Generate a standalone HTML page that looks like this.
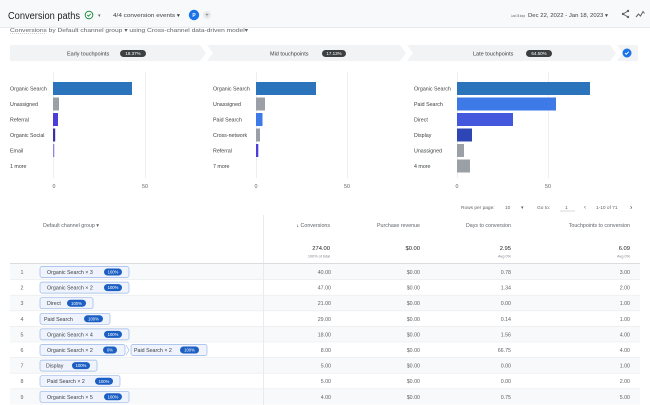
<!DOCTYPE html>
<html><head><meta charset="utf-8">
<style>
html,body{margin:0;padding:0;background:#fff;width:650px;height:405px;overflow:hidden}
svg{display:block;font-family:"Liberation Sans",Arial,sans-serif}
</style></head>
<body>
<svg width="650" height="405" viewBox="0 0 650 405" xmlns="http://www.w3.org/2000/svg">
<!-- top bar -->
<rect x="0" y="0" width="650" height="27" fill="#f8f9fa"/>
<line x1="0" y1="27.5" x2="650" y2="27.5" stroke="#e8eaed"/>
<text x="8" y="19" font-size="10" fill="#202124" textLength="72" lengthAdjust="spacingAndGlyphs">Conversion paths</text>
<circle cx="89" cy="15" r="3.8" fill="none" stroke="#1e8e3e" stroke-width="1"/>
<path d="M87.3 15 l1.2 1.2 l2.2-2.3" fill="none" stroke="#1e8e3e" stroke-width="0.9"/>
<text x="98" y="17" font-size="5" fill="#5f6368">▾</text>
<text x="113" y="17" font-size="5.5" fill="#3c4043" textLength="67" lengthAdjust="spacingAndGlyphs">4/4 conversion events ▾</text>
<circle cx="194" cy="15" r="5.2" fill="#1a73e8"/>
<text x="194" y="17" font-size="5" fill="#fff" text-anchor="middle" font-weight="bold">P</text>
<circle cx="207" cy="15" r="4" fill="#e8eaed"/>
<text x="207" y="17" font-size="6" fill="#5f6368" text-anchor="middle">+</text>
<text x="511" y="17" font-size="3.8" fill="#5f6368" textLength="14" lengthAdjust="spacingAndGlyphs">Last 28 days</text>
<text x="528" y="17" font-size="5.6" fill="#3c4043" textLength="80" lengthAdjust="spacingAndGlyphs">Dec 22, 2022 - Jan 18, 2023 ▾</text>
<g stroke="#5f6368" stroke-width="1" fill="none">
<path d="M628 11 l-5 3 l5 3"/>
<path d="M636 17 l2.5-3 l2 2 l2.5-4.5 l1.5 2"/>
</g>
<circle cx="628" cy="11" r="1.2" fill="#5f6368"/><circle cx="623" cy="14" r="1.2" fill="#5f6368"/><circle cx="628" cy="17" r="1.2" fill="#5f6368"/>
<!-- subtitle -->
<text x="10" y="32" font-size="5.8" fill="#5f6368" textLength="238" lengthAdjust="spacingAndGlyphs">Conversions by Default channel group ▾  using Cross-channel data-driven model▾</text>
<line x1="10" y1="33.5" x2="45" y2="33.5" stroke="#9aa0a6" stroke-width="0.5" stroke-dasharray="1,1"/>
<!-- stage tabs -->
<path d="M12 45 H200 L206 53 L200 61 H12 Q10 61 10 59 V47 Q10 45 12 45Z" fill="#f1f3f4"/>
<path d="M207 45 H400 L406 53 L400 61 H207 L213 53Z" fill="#f1f3f4"/>
<path d="M407 45 H610 L616 53 L610 61 H407 L413 53Z" fill="#f1f3f4"/>
<path d="M617 45 H636 Q638 45 638 47 V59 Q638 61 636 61 H617 L623 53Z" fill="#f1f3f4"/>
<text x="67" y="55.5" font-size="5.5" fill="#3c4043">Early touchpoints</text>
<rect x="120" y="50" width="26" height="7" rx="3.5" fill="#3c4043"/>
<text x="133" y="55.2" font-size="4.5" fill="#fff" text-anchor="middle">18.37%</text>
<text x="270" y="55.5" font-size="5.5" fill="#3c4043">Mid touchpoints</text>
<rect x="322" y="50" width="24" height="7" rx="3.5" fill="#3c4043"/>
<text x="334" y="55.2" font-size="4.5" fill="#fff" text-anchor="middle">17.13%</text>
<text x="473" y="55.5" font-size="5.5" fill="#3c4043">Late touchpoints</text>
<rect x="526" y="50" width="26" height="7" rx="3.5" fill="#3c4043"/>
<text x="539" y="55.2" font-size="4.5" fill="#fff" text-anchor="middle">64.50%</text>
<circle cx="627" cy="53" r="4.5" fill="#1a73e8"/>
<path d="M625 53 l1.3 1.3 l2.5-2.6" fill="none" stroke="#fff" stroke-width="0.9"/>
<!-- charts gridlines -->
<g stroke="#e8eaed" stroke-width="0.8">
<line x1="53.5" y1="72" x2="53.5" y2="178"/><line x1="145.5" y1="72" x2="145.5" y2="178"/>
<line x1="256.5" y1="72" x2="256.5" y2="178"/><line x1="347.5" y1="72" x2="347.5" y2="178"/>
<line x1="457.5" y1="72" x2="457.5" y2="178"/><line x1="548.5" y1="72" x2="548.5" y2="178"/>
</g>
<g font-size="5.3" fill="#3c4043">
<text x="10" y="90.5">Organic Search</text>
<text x="10" y="106">Unassigned</text>
<text x="10" y="121.5">Referral</text>
<text x="10" y="137">Organic Social</text>
<text x="10" y="152.5">Email</text>
<text x="10" y="168">1 more</text>
<text x="213" y="90.5">Organic Search</text>
<text x="213" y="106">Unassigned</text>
<text x="213" y="121.5">Paid Search</text>
<text x="213" y="137">Cross-network</text>
<text x="213" y="152.5">Referral</text>
<text x="213" y="168">7 more</text>
<text x="414" y="90.5">Organic Search</text>
<text x="414" y="106">Paid Search</text>
<text x="414" y="121.5">Direct</text>
<text x="414" y="137">Display</text>
<text x="414" y="152.5">Unassigned</text>
<text x="414" y="168">4 more</text>
</g>
<g font-size="5.3" fill="#5f6368" text-anchor="middle">
<text x="54" y="188">0</text><text x="145" y="188">50</text>
<text x="256" y="188">0</text><text x="347" y="188">50</text>
<text x="457" y="188">0</text><text x="548" y="188">50</text>
</g>
<!-- bars -->
<rect x="53" y="82" width="79" height="13" fill="#2b73bb"/>
<rect x="53" y="97.5" width="6" height="13" fill="#9aa0a6"/>
<rect x="53" y="113" width="5" height="13" fill="#4b3fd8"/>
<rect x="53" y="128.5" width="2.2" height="13" fill="#3b2fa8"/>
<rect x="53" y="144" width="1.3" height="13" fill="#8f86e0"/>

<rect x="256" y="82" width="60" height="13" fill="#2b73bb"/>
<rect x="256" y="97.5" width="9" height="13" fill="#9aa0a6"/>
<rect x="256" y="113" width="6.5" height="13" fill="#3d7ae8"/>
<rect x="256" y="128.5" width="4" height="13" fill="#9aa0a6"/>
<rect x="256" y="144" width="2.3" height="13" fill="#4b3fd8"/>

<rect x="457" y="82" width="133" height="13" fill="#2b73bb"/>
<rect x="457" y="97.5" width="99" height="13" fill="#3d7ae8"/>
<rect x="457" y="113" width="56" height="13" fill="#4458de"/>
<rect x="457" y="128.5" width="15" height="13" fill="#2d45b5"/>
<rect x="457" y="144" width="7" height="13" fill="#9aa0a6"/>
<rect x="457" y="159.5" width="13" height="13" fill="#9aa0a6"/>
<!-- pagination -->
<g font-size="4.8" fill="#5f6368">
<text x="461" y="209">Rows per page:</text>
<text x="505" y="209">10</text>
<text x="521" y="209">▾</text>
<text x="537" y="209">Go to:</text>
<text x="565" y="209">1</text>
<line x1="560" y1="211" x2="575" y2="211" stroke="#9aa0a6" stroke-width="0.4"/>
<text x="584" y="209" font-size="6">‹</text>
<text x="596" y="209">1-10 of 71</text>
<text x="630" y="209.5" font-size="7" fill="#3c4043">›</text>
</g>
<!-- table header -->
<line x1="263.5" y1="215" x2="263.5" y2="405" stroke="#e8eaed"/>
<g font-size="5.3" fill="#5f6368">
<text x="43" y="227">Default channel group  ▾</text>
<text x="330" y="227" text-anchor="end"><tspan fill="#202124">↓</tspan> Conversions</text>
<text x="420" y="227" text-anchor="end">Purchase revenue</text>
<text x="511" y="227" text-anchor="end">Days to conversion</text>
<text x="630" y="227" text-anchor="end">Touchpoints to conversion</text>
</g>
<g font-size="5.8" fill="#202124" text-anchor="end">
<text x="330" y="250">274.00</text>
<text x="420" y="250">$0.00</text>
<text x="511" y="250">2.95</text>
<text x="630" y="250">6.09</text>
</g>
<g font-size="3.8" fill="#80868b" text-anchor="end">
<text x="330" y="257.5">100% of total</text>
<text x="511" y="257.5">Avg 0%</text>
<text x="630" y="257.5">Avg 0%</text>
</g>
<line x1="10" y1="263.5" x2="640" y2="263.5" stroke="#dadce0"/>
<g fill="#f8f9fa">
<rect x="10" y="264" width="630" height="15.6"/>
<rect x="10" y="295.2" width="630" height="15.6"/>
<rect x="10" y="326.4" width="630" height="15.6"/>
<rect x="10" y="357.6" width="630" height="15.6"/>
<rect x="10" y="388.8" width="630" height="15.6"/>
</g>
<g stroke="#e8eaed" stroke-width="0.6">
<line x1="10" y1="279.6" x2="640" y2="279.6"/>
<line x1="10" y1="295.2" x2="640" y2="295.2"/>
<line x1="10" y1="310.8" x2="640" y2="310.8"/>
<line x1="10" y1="326.4" x2="640" y2="326.4"/>
<line x1="10" y1="342" x2="640" y2="342"/>
<line x1="10" y1="357.6" x2="640" y2="357.6"/>
<line x1="10" y1="373.2" x2="640" y2="373.2"/>
<line x1="10" y1="388.8" x2="640" y2="388.8"/>
</g>
<line x1="263.5" y1="264" x2="263.5" y2="405" stroke="#e8eaed"/>
<g font-size="5.3" fill="#5f6368" text-anchor="middle">
<text x="22" y="274">1</text><text x="22" y="289.6">2</text><text x="22" y="305.2">3</text>
<text x="22" y="320.8">4</text><text x="22" y="336.4">5</text><text x="22" y="352">6</text>
<text x="22" y="367.6">7</text><text x="22" y="383.2">8</text><text x="22" y="398.8">9</text>
</g>
<g fill="#eef3fd" stroke="#9bb7e6" stroke-width="0.7">
<rect x="40" y="266.5" width="89" height="11" rx="2"/>
<rect x="40" y="282.1" width="89" height="11" rx="2"/>
<rect x="40" y="297.7" width="53" height="11" rx="2"/>
<rect x="40" y="313.3" width="70" height="11" rx="2"/>
<rect x="40" y="328.9" width="89" height="11" rx="2"/>
<rect x="40" y="344.5" width="85" height="11" rx="2"/>
<rect x="131" y="344.5" width="76" height="11" rx="2"/>
<rect x="40" y="360.1" width="57" height="11" rx="2"/>
<rect x="40" y="375.7" width="80" height="11" rx="2"/>
<rect x="40" y="391.3" width="89" height="11" rx="2"/>
</g>
<path d="M126 345 l3 5 l-3 5" fill="none" stroke="#9bb7e6" stroke-width="0.6"/>
<g font-size="5.3" fill="#3c4043">
<text x="47" y="274">Organic Search × 3</text>
<text x="47" y="289.6">Organic Search × 2</text>
<text x="47" y="305.2">Direct</text>
<text x="44" y="320.8">Paid Search</text>
<text x="47" y="336.4">Organic Search × 4</text>
<text x="47" y="352">Organic Search × 2</text>
<text x="134" y="352">Paid Search × 2</text>
<text x="46" y="367.6">Display</text>
<text x="47" y="383.2">Paid Search × 2</text>
<text x="47" y="398.8">Organic Search × 5</text>
</g>
<g fill="#1b5fc4">
<rect x="104" y="268.5" width="18" height="7" rx="3.5"/>
<rect x="104" y="284.1" width="18" height="7" rx="3.5"/>
<rect x="67" y="299.7" width="19" height="7" rx="3.5"/>
<rect x="84" y="315.3" width="19" height="7" rx="3.5"/>
<rect x="104" y="330.9" width="18" height="7" rx="3.5"/>
<rect x="103" y="346.5" width="14" height="7" rx="3.5"/>
<rect x="180" y="346.5" width="19" height="7" rx="3.5"/>
<rect x="72" y="362.1" width="18" height="7" rx="3.5"/>
<rect x="95" y="377.7" width="18" height="7" rx="3.5"/>
<rect x="104" y="393.3" width="18" height="7" rx="3.5"/>
</g>
<g font-size="4.2" fill="#fff" text-anchor="middle">
<text x="113" y="273.6">100%</text>
<text x="113" y="289.2">100%</text>
<text x="76.5" y="304.8">100%</text>
<text x="93.5" y="320.4">100%</text>
<text x="113" y="336">100%</text>
<text x="110" y="351.6">0%</text>
<text x="189.5" y="351.6">100%</text>
<text x="81" y="367.2">100%</text>
<text x="104" y="382.8">100%</text>
<text x="113" y="398.4">100%</text>
</g>
<g font-size="5.3" fill="#5f6368" text-anchor="end">
<text x="331" y="274">40.00</text><text x="420" y="274">$0.00</text><text x="511" y="274">0.78</text><text x="630" y="274">3.00</text>
<text x="331" y="289.6">47.00</text><text x="420" y="289.6">$0.00</text><text x="511" y="289.6">1.34</text><text x="630" y="289.6">2.00</text>
<text x="331" y="305.2">21.00</text><text x="420" y="305.2">$0.00</text><text x="511" y="305.2">0.00</text><text x="630" y="305.2">1.00</text>
<text x="331" y="320.8">29.00</text><text x="420" y="320.8">$0.00</text><text x="511" y="320.8">0.14</text><text x="630" y="320.8">1.00</text>
<text x="331" y="336.4">18.00</text><text x="420" y="336.4">$0.00</text><text x="511" y="336.4">1.56</text><text x="630" y="336.4">4.00</text>
<text x="331" y="352">8.00</text><text x="420" y="352">$0.00</text><text x="511" y="352">66.75</text><text x="630" y="352">4.00</text>
<text x="331" y="367.6">5.00</text><text x="420" y="367.6">$0.00</text><text x="511" y="367.6">0.00</text><text x="630" y="367.6">1.00</text>
<text x="331" y="383.2">5.00</text><text x="420" y="383.2">$0.00</text><text x="511" y="383.2">0.00</text><text x="630" y="383.2">2.00</text>
<text x="331" y="398.8">4.00</text><text x="420" y="398.8">$0.00</text><text x="511" y="398.8">0.75</text><text x="630" y="398.8">5.00</text>
</g>
</svg>
</body></html>
